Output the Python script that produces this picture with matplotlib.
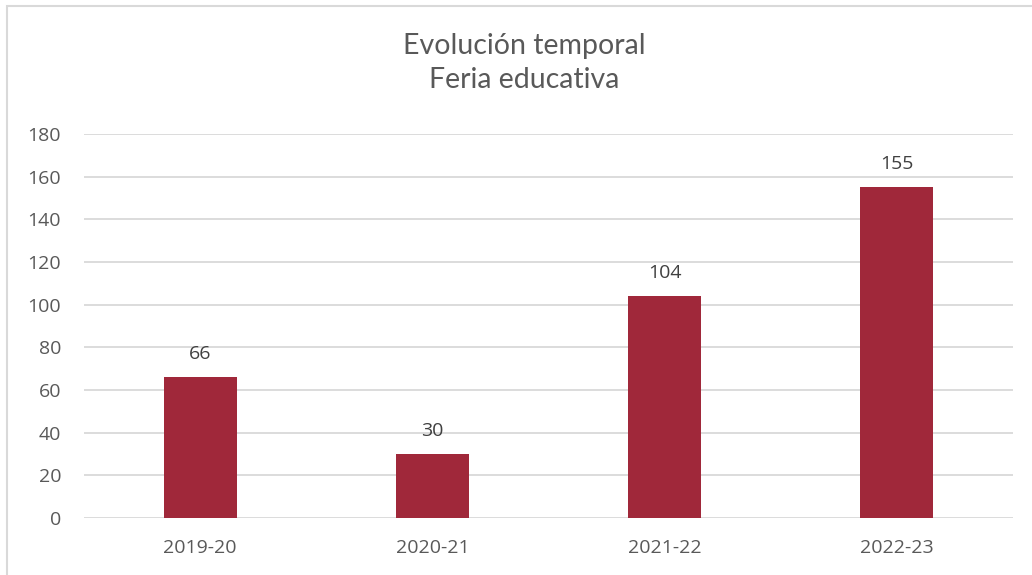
import matplotlib
matplotlib.use("Agg")
import matplotlib.pyplot as plt
from matplotlib.patches import Rectangle

categories = ["2019-20", "2020-21", "2021-22", "2022-23"]
values = [66, 30, 104, 155]
yticks = [0, 20, 40, 60, 80, 100, 120, 140, 160, 180]
title_lines = ["Evolución temporal", "Feria educativa"]

plt.rcParams['font.family'] = ['Open Sans', 'DejaVu Sans']
W, H = 1032, 575
fig = plt.figure(figsize=(W/100, H/100), dpi=100)
ax = fig.add_axes([84/W, 1-518/H, (1013-84)/W, (518-134)/H])

x = list(range(len(categories)))
ax.bar(x, values, width=0.315, color="#A0283A", zorder=3)
ax.set_xlim(-0.5, len(categories)-0.5)
ax.set_ylim(0, 180)
ax.set_yticks(yticks)
ax.set_xticks(x)
ax.set_xticklabels(categories)
ax.yaxis.grid(True, color="#D9D9D9", linewidth=1.3, zorder=0)
for s in ax.spines.values():
    s.set_visible(False)
ax.tick_params(axis='both', length=0, labelsize=14, colors="#595959")
ax.tick_params(axis='y', pad=16.5)
ax.tick_params(axis='x', pad=15)
for xi, v in zip(x, values):
    ax.annotate(str(v), (xi, v), xytext=(0, 13), textcoords="offset points",
                ha="center", va="baseline", fontsize=14, color="#404040")

for line, yb in zip(title_lines, [54, 88]):
    fig.text(524/W, 1-yb/H, line, ha="center", va="baseline", fontsize=20.5,
             color="#595959", family=['Lato', 'DejaVu Sans'])
fig.patches.append(Rectangle((7/W, -0.1), 1.2, 1-6/H+0.1, transform=fig.transFigure,
                             fill=False, edgecolor="#D9D9D9", linewidth=1.5))
fig.savefig("out.png", dpi=100)
